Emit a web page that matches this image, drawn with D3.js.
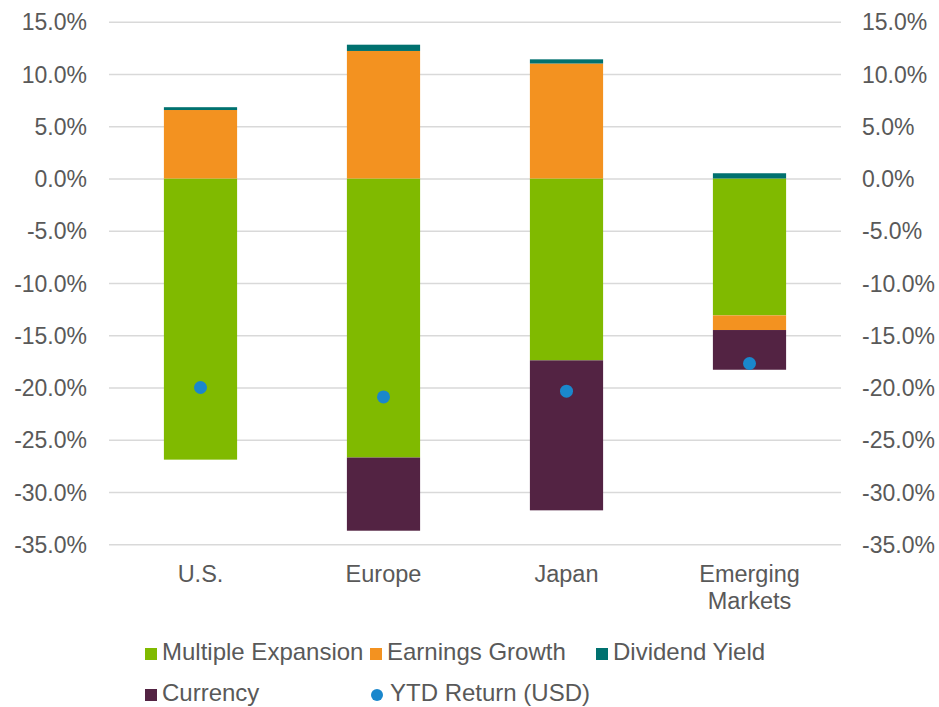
<!DOCTYPE html>
<html>
<head>
<meta charset="utf-8">
<script src="https://cdn.jsdelivr.net/npm/d3@7"></script>
<style>
  body { margin: 0; background: #fff; }
  svg text { font-family: "Liberation Sans", Arial, sans-serif; fill: #595959; }
</style>
</head>
<body>
<svg id="chart" width="939" height="707"></svg>
<script>
// Chart values (percent)
const categories = ['U.S.', 'Europe', 'Japan', 'Emerging Markets'];
const multipleExpansion = [-26.9, -26.7, -17.4, -13.1];
const earningsGrowth = [6.55, 12.2, 11.0, -1.4];
const dividendYield = [0.27, 0.6, 0.4, 0.5];
const currency = [0, -7.0, -14.35, -3.8];
const ytdReturn = [-20.0, -20.9, -20.35, -17.7];
const yTicks = [15, 10, 5, 0, -5, -10, -15, -20, -25, -30, -35];

const seriesKeys = ['Multiple Expansion', 'Earnings Growth', 'Dividend Yield', 'Currency'];
const seriesColors = {
  'Multiple Expansion': '#80BA00',
  'Earnings Growth': '#F39220',
  'Dividend Yield': '#00716F',
  'Currency': '#532343'
};
const dotColor = '#1A87CC';

// Build rows for d3.stack
const rows = categories.map((c, i) => ({
  category: c,
  'Multiple Expansion': multipleExpansion[i],
  'Earnings Growth': earningsGrowth[i],
  'Dividend Yield': dividendYield[i],
  'Currency': currency[i],
  ytd: ytdReturn[i]
}));

const svg = d3.select('#chart');
const plot = { left: 109, right: 841, top: 21.7, bottom: 544.3 };

// Scales
const x = d3.scaleBand()
  .domain(categories)
  .range([plot.left, plot.right])
  .paddingInner(0.6)
  .paddingOuter(0.3);

const y = d3.scaleLinear()
  .domain([-35, 15])
  .range([plot.bottom, plot.top]);

const fmt = v => `${v.toFixed(1)}%`;

// Gridlines
svg.append('g')
  .attr('class', 'gridY')
  .attr('transform', `translate(${plot.left},0)`)
  .call(d3.axisLeft(y).tickValues(yTicks).tickFormat('').tickSize(-(plot.right - plot.left)))
  .call(g => g.select('.domain').remove())
  .call(g => g.selectAll('line').attr('stroke', '#D9D9D9').attr('stroke-width', 1.5));

// Left axis labels
svg.append('g')
  .attr('class', 'y axis')
  .attr('transform', `translate(${plot.left},0)`)
  .call(d3.axisLeft(y).tickValues(yTicks).tickFormat(fmt).tickSize(0).tickPadding(22))
  .call(g => g.select('.domain').remove())
  .call(g => g.selectAll('text').style('font-size', '23px').attr('dy', '0.35em'));

// Right axis labels
svg.append('g')
  .attr('class', 'y2 axis')
  .attr('transform', `translate(${plot.right},0)`)
  .call(d3.axisRight(y).tickValues(yTicks).tickFormat(fmt).tickSize(0).tickPadding(21))
  .call(g => g.select('.domain').remove())
  .call(g => g.selectAll('text').style('font-size', '23px').attr('dy', '0.35em'));

// Stacked bars
const stacked = d3.stack()
  .keys(seriesKeys)
  .offset(d3.stackOffsetDiverging)(rows);

svg.append('g')
  .selectAll('g')
  .data(stacked)
  .enter().append('g')
  .attr('fill', d => seriesColors[d.key])
  .selectAll('rect')
  .data(d => d)
  .enter().append('rect')
  .attr('x', d => x(d.data.category))
  .attr('y', d => y(Math.max(d[0], d[1])))
  .attr('width', x.bandwidth())
  .attr('height', d => Math.abs(y(d[0]) - y(d[1])));

// YTD return dots
svg.append('g')
  .selectAll('circle')
  .data(rows)
  .enter().append('circle')
  .attr('cx', d => x(d.category) + x.bandwidth() / 2)
  .attr('cy', d => y(d.ytd))
  .attr('r', 6.5)
  .attr('fill', dotColor);

// Category labels
const catLabels = svg.append('g')
  .selectAll('text')
  .data(categories)
  .enter().append('text')
  .attr('text-anchor', 'middle')
  .attr('y', 582)
  .style('font-size', '23.5px');

catLabels.each(function (c) {
  const words = c.split(' ');
  d3.select(this).selectAll('tspan')
    .data(words)
    .enter().append('tspan')
    .attr('x', x(c) + x.bandwidth() / 2)
    .attr('dy', (w, i) => (i === 0 ? 0 : 27))
    .text(w => w);
});

// Legend
const legendItems = [
  { label: 'Multiple Expansion', x: 145, y: 660, type: 'rect' },
  { label: 'Earnings Growth', x: 370, y: 660, type: 'rect' },
  { label: 'Dividend Yield', x: 596, y: 660, type: 'rect' },
  { label: 'Currency', x: 145, y: 701, type: 'rect' },
  { label: 'YTD Return (USD)', x: 371, y: 701, type: 'dot' }
];

const legend = svg.append('g').attr('class', 'legend');

legendItems.forEach((item) => {
  if (item.type === 'rect') {
    legend.append('rect')
      .attr('x', item.x)
      .attr('y', item.y - 12)
      .attr('width', 12)
      .attr('height', 12)
      .attr('fill', seriesColors[item.label]);
  } else {
    legend.append('circle')
      .attr('cx', item.x + 6)
      .attr('cy', item.y - 6)
      .attr('r', 6)
      .attr('fill', dotColor);
  }
  legend.append('text')
    .attr('x', item.x + (item.type === 'dot' ? 19 : 17))
    .attr('y', item.y)
    .style('font-size', '24px')
    .text(item.label);
});
</script>
</body>
</html>
